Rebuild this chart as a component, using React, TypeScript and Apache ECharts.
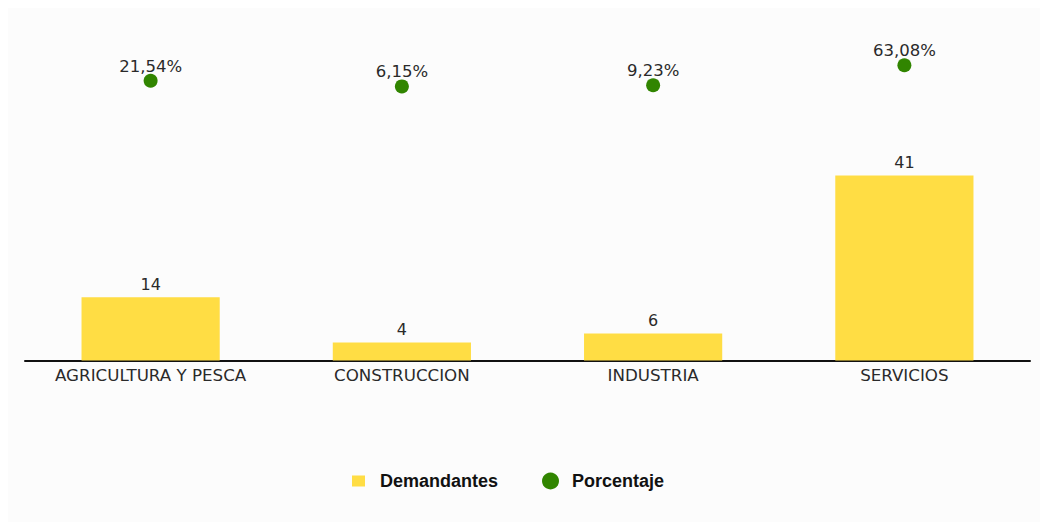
import React, { useEffect, useRef } from "react";
import * as echarts from "echarts";

const categories = ["AGRICULTURA Y PESCA", "CONSTRUCCION", "INDUSTRIA", "SERVICIOS"];
const demandantes = [14, 4, 6, 41];
const porcentaje = [21.54, 6.15, 9.23, 63.08];

export default function App() {
  const ref = useRef<HTMLDivElement>(null);
  useEffect(() => {
    if (!ref.current) return;
    const chart = echarts.init(ref.current, undefined, { renderer: "svg" });
    const legendText = { fontFamily: "Liberation Sans", fontWeight: "bold", fontSize: 18, color: "#111" };
    chart.setOption({
      animation: false,
      backgroundColor: "#fcfcfc",
      textStyle: { fontFamily: "DejaVu Sans" },
      grid: { left: 17, right: 10, top: 12, bottom: 161.5, containLabel: false },
      legend: [
        {
          data: ["Demandantes"],
          left: 344,
          top: 464,
          padding: 0,
          itemWidth: 13,
          itemHeight: 11,
          icon: "rect",
          textStyle: { ...legendText, padding: [0, 0, 0, 10] },
        },
        {
          data: ["Porcentaje"],
          left: 534,
          top: 464,
          padding: 0,
          itemWidth: 17,
          itemHeight: 17,
          icon: "circle",
          textStyle: { ...legendText, padding: [0, 0, 0, 8] },
        },
      ],
      xAxis: {
        type: "category",
        data: categories,
        axisLine: { lineStyle: { color: "#111", width: 2 } },
        axisTick: { show: false },
        axisLabel: { fontFamily: "DejaVu Sans", fontSize: 16.7, color: "#2a2a2a", margin: 6, interval: 0 },
      },
      yAxis: [
        { type: "value", min: 0, max: 75.5, show: false, splitLine: { show: false } },
        { type: "value", min: -731.8, max: 185, show: false, splitLine: { show: false } },
      ],
      series: [
        {
          name: "Demandantes",
          type: "bar",
          data: demandantes,
          barWidth: "55%",
          itemStyle: { color: "#ffdd44" },
          label: { show: true, position: "top", distance: 5, fontFamily: "DejaVu Sans", fontSize: 16, color: "#2a2a2a" },
        },
        {
          name: "Porcentaje",
          type: "scatter",
          yAxisIndex: 1,
          data: porcentaje,
          symbolSize: 14,
          itemStyle: { color: "#318500", opacity: 1 },
          label: {
            show: true,
            position: "top",
            distance: -1,
            fontFamily: "DejaVu Sans",
            fontSize: 16.5,
            color: "#2a2a2a",
            formatter: (p: any) => p.value.toFixed(2).replace(".", ",") + "%",
          },
        },
      ],
    });
    return () => chart.dispose();
  }, []);
  return <div ref={ref} style={{ width: 1032, height: 514 }} />;
}
